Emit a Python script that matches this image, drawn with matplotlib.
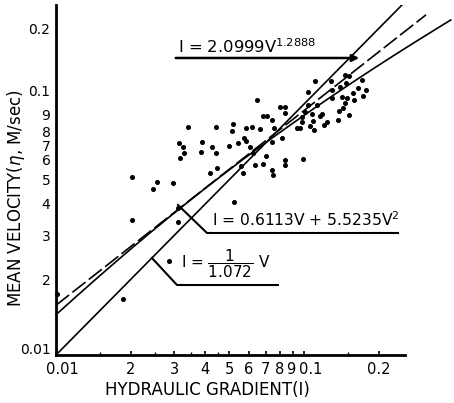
import matplotlib.pyplot as plt
import matplotlib.transforms as mtrans
import numpy as np

plt.rcParams['font.family'] = ['DejaVu Sans']
plt.rcParams['mathtext.fontset'] = 'dejavusans'

# Measured points: hydraulic gradient I and mean velocity V (m/s)
grad = [0.0101, 0.0187, 0.0202, 0.0202, 0.0255, 0.0245, 0.0297, 0.0286, 0.0311, 0.0310,
        0.0339, 0.0313, 0.0324, 0.0327, 0.0316, 0.0386, 0.0384, 0.0424, 0.0442, 0.0441,
        0.0418, 0.0446, 0.0524, 0.0500, 0.0519, 0.0512, 0.0540, 0.0582, 0.0574, 0.0581,
        0.0619, 0.0645, 0.0665, 0.0606, 0.0623, 0.0557, 0.0568, 0.0635, 0.0686, 0.0709,
        0.0741, 0.0703, 0.0686, 0.0741, 0.0750, 0.0800, 0.0838, 0.0838, 0.0753, 0.0811,
        0.0838, 0.0838, 0.0994, 0.0935, 0.0964, 0.0980, 0.0980, 0.1009, 0.1040, 0.1040,
        0.1074, 0.1090, 0.1057, 0.1100, 0.1160, 0.1186, 0.1235, 0.1207, 0.1102, 0.1132,
        0.1285, 0.1300, 0.1294, 0.1375, 0.1388, 0.1440, 0.1510, 0.1420, 0.1486, 0.1463,
        0.1523, 0.1477, 0.1570, 0.1590, 0.1656, 0.1706, 0.1720, 0.1783, 0.1397, 0.1463,
        0.0741]
vel = [0.0175, 0.0167, 0.0345, 0.0511, 0.0490, 0.0457, 0.0486, 0.0236, 0.0340, 0.0385,
       0.0808, 0.0702, 0.0676, 0.0636, 0.0607, 0.0708, 0.0641, 0.0676, 0.0636, 0.0811,
       0.0532, 0.0554, 0.0408, 0.0678, 0.0832, 0.0780, 0.0701, 0.0800, 0.0735, 0.0712,
       0.0808, 0.1035, 0.0795, 0.0672, 0.0636, 0.0564, 0.0530, 0.0571, 0.0892, 0.0892,
       0.0863, 0.0623, 0.0577, 0.0548, 0.0519, 0.0977, 0.0973, 0.0925, 0.0800, 0.0730,
       0.0598, 0.0571, 0.0602, 0.0800, 0.0800, 0.0885, 0.0850, 0.0932, 0.1120, 0.0991,
       0.0912, 0.0858, 0.0817, 0.0788, 0.0892, 0.0912, 0.0850, 0.0825, 0.1240, 0.0991,
       0.1240, 0.1137, 0.1054, 0.0863, 0.0942, 0.0961, 0.0904, 0.1070, 0.1054, 0.1305,
       0.1293, 0.1218, 0.1103, 0.1037, 0.1155, 0.1252, 0.1072, 0.1132, 0.1172, 0.1007,
       0.0708]

# Fitted relations shown on the chart
pow_a, pow_b = 2.0999, 1.2888          # I = a V^b
quad_a, quad_b = 0.6113, 5.5235        # I = a V + b V^2
lin_k = 1.0                            # linear fit as drawn (V ~ I)

tick_vals = [0.01, 0.02, 0.03, 0.04, 0.05, 0.06, 0.07, 0.08, 0.09, 0.1, 0.2]
tick_labels = ['0.01', '2', '3', '4', '5', '6', '7', '8', '9', '0.1', '0.2']
minor_vals = [0.015, 0.025, 0.035, 0.045, 0.15]

fig = plt.figure(figsize=(4.54, 4.03), dpi=100)
ax = fig.add_axes([0.1233, 0.1191, 0.7687, 0.8685])
ax.set_xscale('log')
ax.set_yscale('log')

# fit lines
I_q = np.geomspace(0.01, 0.39, 200)
V_q = (-quad_a + np.sqrt(quad_a**2 + 4 * quad_b * I_q)) / (2 * quad_b)
ax.plot(I_q, V_q, color='black', lw=1.2, clip_on=False)

I_p = np.geomspace(0.01, 0.31, 200)
V_p = (I_p / pow_a) ** (1 / pow_b)
ax.plot(I_p, V_p, color='black', lw=1.2, dashes=(10, 2.5), clip_on=False)

I_l = np.geomspace(0.0102, 0.3, 50)
ax.plot(I_l, lin_k * I_l, color='black', lw=1.2)

ax.plot(grad, vel, 'o', color='black', ms=2.6, clip_on=False)

ax.set_xlim(0.01, 0.255)
ax.set_ylim(0.01, 0.248)

for s in ['top', 'right']:
    ax.spines[s].set_visible(False)
for s in ['left', 'bottom']:
    ax.spines[s].set_linewidth(2)

ax.set_xticks(tick_vals)
ax.set_xticklabels(tick_labels, fontsize=10.5)
ax.set_xticks(minor_vals, minor=True)
ax.set_xticklabels([], minor=True)
ax.set_yticks(tick_vals)
ax.set_yticklabels(tick_labels, fontsize=10)
ax.set_yticks([], minor=True)
ax.tick_params(axis='x', which='major', direction='in', length=3, width=1.2, pad=5)
ax.tick_params(axis='x', which='minor', direction='in', length=2, width=1)
ax.tick_params(axis='y', length=0, pad=4)

# nudge a few tick labels the way the original has them
def nudge(lbl, dx, dy):
    lbl.set_transform(lbl.get_transform() + mtrans.ScaledTranslation(dx / 100, dy / 100, fig.dpi_scale_trans))

xl = ax.get_xticklabels()
nudge(xl[0], 6, 0)
nudge(xl[8], -2, 0)
nudge(xl[9], 7, 0)
yl = ax.get_yticklabels()
nudge(yl[0], 0, 7)
nudge(yl[6], 0, -3)
nudge(yl[7], 0, -3)
nudge(yl[8], 0, 1)
nudge(yl[9], 0, 14)

# equation labels with leader lines
ax.annotate('', xy=(0.8768, 0.8486), xytext=(0.3352, 0.8486), xycoords='axes fraction',
            arrowprops=dict(arrowstyle='-|>', color='black', lw=1.8, mutation_scale=10))
ax.text(0.35, 0.88, r'I = 2.0999V$^{1.2888}$', transform=ax.transAxes,
        fontsize=11.8, va='center', ha='left')

ax.plot([0.3496, 0.4327, 0.980], [0.4286, 0.3486, 0.3486], color='black', lw=1.5,
        transform=ax.transAxes, clip_on=False)
ax.text(0.447, 0.386, r'I = 0.6113V + 5.5235V$^2$', transform=ax.transAxes,
        fontsize=11.2, va='center', ha='left')

ax.plot([0.2751, 0.3467, 0.6361], [0.2771, 0.2, 0.2], color='black', lw=1.5,
        transform=ax.transAxes, clip_on=False)
ax.text(0.358, 0.262, r'I = $\dfrac{1}{1.072}$ V', transform=ax.transAxes,
        fontsize=11, va='center', ha='left')

fig.text(16 / 454, 1 - 198 / 403, r'MEAN VELOCITY($\eta$, M/sec)', rotation=90,
         ha='center', va='center', fontsize=12)
fig.text(207 / 454, 1 - 390 / 403, 'HYDRAULIC GRADIENT(I)',
         ha='center', va='center', fontsize=12)

fig.savefig('out.png', dpi=100)
